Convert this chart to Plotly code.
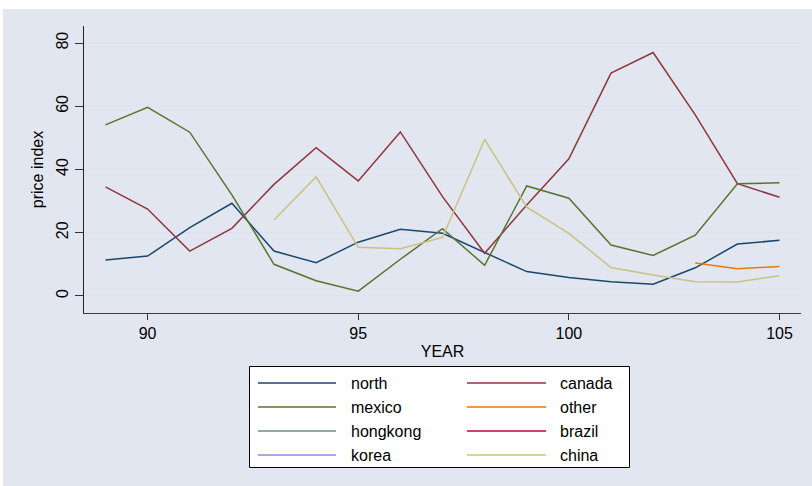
import plotly.graph_objects as go

years = list(range(89, 106))

north = [11.4, 12.6, 21.6, 29.3, 14.2, 10.5, 17.0, 21.1, 19.8, 13.8, 7.7, 5.8, 4.5, 3.7, 8.9, 16.4, 17.6]
canada = [34.5, 27.5, 14.2, 21.4, 35.3, 46.9, 36.4, 51.9, 31.4, 13.5, 28.8, 43.4, 70.5, 77.0, 57.3, 35.5, 31.2]
mexico = [54.1, 59.7, 51.8, 32.0, 10.0, 4.8, 1.5, 11.6, 21.3, 9.7, 34.8, 30.9, 16.1, 12.8, 19.2, 35.5, 35.8]
other = [None] * 14 + [10.4, 8.6, 9.3]
hongkong = [None] * 17
brazil = [None] * 17
korea = [None] * 17
china = [None] * 4 + [24.0, 37.7, 15.4, 14.9, 18.5, 49.5, 28.1, 19.8, 9.0, 6.6, 4.5, 4.4, 6.4]

series_names = ["north", "canada", "mexico", "other", "hongkong", "brazil", "korea", "china"]
series_values = [north, canada, mexico, other, hongkong, brazil, korea, china]
series_colors = ["#1a476f", "#90353b", "#55752f", "#e37e00", "#6e8e84", "#c10534", "#938dd2", "#cac27e"]

x_ticks = [90, 95, 100, 105]
y_ticks = [0, 20, 40, 60, 80]

W, H = 812, 486
L, R, T, B = 84, 801, 26, 313
BG = "#e1e6f0"
FONT = "Liberation Sans, Arial, sans-serif"

def px(x):
    return (x - L) / (R - L)

def py(y):
    return (B - y) / (B - T)

fig = go.Figure()
for name, vals, col in zip(series_names, series_values, series_colors):
    fig.add_trace(go.Scatter(x=years, y=vals, mode="lines", name=name,
                             line=dict(color=col, width=1.5), showlegend=False,
                             connectgaps=False))

shapes = [
    dict(type="rect", xref="paper", yref="paper", x0=px(3), x1=px(812), y0=py(486), y1=py(9),
         fillcolor=BG, line=dict(width=0), layer="below"),
    dict(type="rect", xref="paper", yref="paper", x0=px(249.5), x1=px(629.5), y0=py(467.5), y1=py(366.5),
         fillcolor="white", line=dict(color="black", width=1), layer="above"),
]
annotations = []
rows = [383, 407, 431, 455]
cols = [(258, 336, 349), (467, 546, 558)]
for i, (name, col) in enumerate(zip(series_names, series_colors)):
    r = i // 2
    c = i % 2
    x0, x1, xt = cols[c]
    yy = rows[r]
    shapes.append(dict(type="line", xref="paper", yref="paper", x0=px(x0), x1=px(x1),
                       y0=py(yy), y1=py(yy), line=dict(color=col, width=1.5), layer="above"))
    annotations.append(dict(text=name, xref="paper", yref="paper", x=px(xt), y=py(yy),
                            xanchor="left", yanchor="middle", showarrow=False,
                            font=dict(family=FONT, size=16, color="black")))

fig.update_layout(
    width=W, height=H,
    margin=dict(l=L, r=W - R, t=T, b=H - B, pad=0),
    paper_bgcolor="white",
    plot_bgcolor="white",
    font=dict(family=FONT, size=16, color="black"),
    shapes=shapes,
    annotations=annotations,
    showlegend=False,
    xaxis=dict(range=[88.49, 105.51], tickvals=x_ticks, ticks="outside", ticklen=6,
               tickcolor="#333", tickwidth=1.2, showgrid=False, zeroline=False,
               showline=True, linecolor="#3a3a3a", linewidth=1.3,
               title=dict(text="YEAR", font=dict(size=16), standoff=4),
               tickfont=dict(size=16)),
    yaxis=dict(range=[-5.4, 85.4], tickvals=y_ticks, ticks="outside", ticklen=8,
               tickcolor="#333", tickwidth=1.2, showgrid=True, gridcolor="#dde2ee", gridwidth=1,
               zeroline=False, showline=True, linecolor="#222", linewidth=1.3,
               tickangle=-90, title=dict(text="price index", font=dict(size=16), standoff=6),
               tickfont=dict(size=16)),
)

fig.write_html("out.html")
